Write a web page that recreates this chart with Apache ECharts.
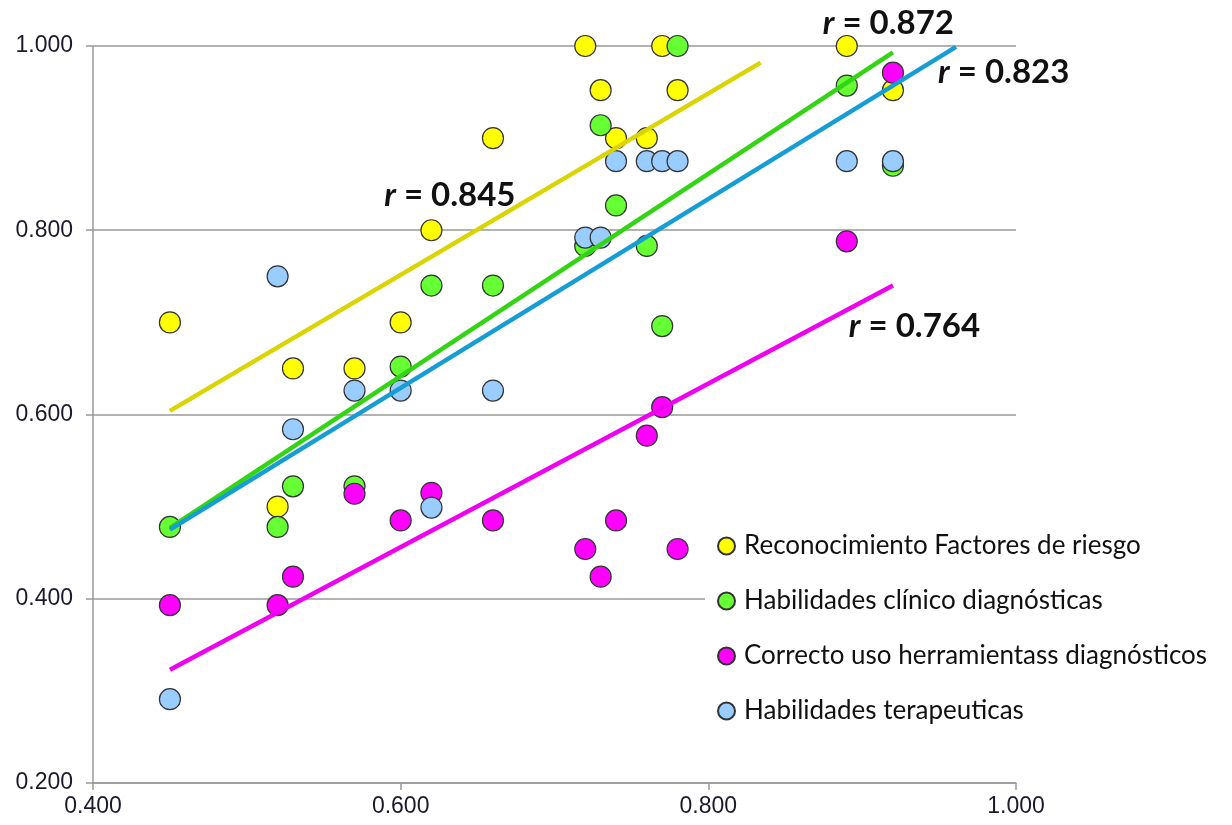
<!DOCTYPE html>
<html>
<head>
<meta charset="utf-8">
<script src="https://cdn.jsdelivr.net/npm/echarts@6/dist/echarts.min.js"></script>
<style>
  html, body { margin: 0; padding: 0; background: #fff; }
  #chart { width: 1232px; height: 825px; }
</style>
</head>
<body>
<div id="chart"></div>
<script>
var dom = document.getElementById("chart");
var myChart = echarts.init(dom);

// shared x values of every series
var xVals = [0.45, 0.52, 0.53, 0.57, 0.60, 0.62, 0.66, 0.72, 0.73, 0.74, 0.76, 0.77, 0.78, 0.89, 0.92];

var names = [
    'Reconocimiento Factores de riesgo',
    'Habilidades clínico diagnósticas',
    'Correcto uso herramientass diagnósticos',
    'Habilidades terapeuticas'
];

var riesgo      = [0.700, 0.500, 0.650, 0.650, 0.700, 0.800, 0.900, 1.000, 0.952, 0.900, 0.900, 1.000, 0.952, 1.000, 0.952];
var clinico     = [0.478, 0.478, 0.522, 0.522, 0.652, 0.740, 0.740, 0.783, 0.914, 0.827, 0.783, 0.696, 1.000, 0.957, 0.870];
var herramienta = [0.393, 0.393, 0.424, 0.514, 0.485, 0.515, 0.485, 0.454, 0.424, 0.485, 0.577, 0.608, 0.454, 0.788, 0.971];
var terapia     = [0.291, 0.750, 0.584, 0.626, 0.626, 0.499, 0.626, 0.792, 0.792, 0.875, 0.875, 0.875, 0.875, 0.875, 0.875];

// trend lines: [x0, y0, x1, y1]
var trendRiesgo      = [0.45, 0.604, 0.834, 0.982];
var trendClinico     = [0.45, 0.477, 0.92, 0.993];
var trendHerramienta = [0.45, 0.323, 0.92, 0.740];
var trendTerapia     = [0.45, 0.475, 0.961, 0.999];

// r labels: [x, y, text]
var rLabels = [
    [0.632, 0.838, '0.845'],
    [0.917, 1.025, '0.872'],
    [0.992, 0.971, '0.823'],
    [0.934, 0.696, '0.764']
];

var markerColors = ['#FFFF00', '#66FF33', '#FF00FF', '#99CCFF'];
var lineColors = ['#DAD400', '#33D414', '#F000F0', '#159DD4'];

function pairs(ys) {
    return xVals.map(function (x, i) { return [x, ys[i]]; });
}

function scatter(name, ys, color) {
    return {
        name: name,
        type: 'scatter',
        data: pairs(ys),
        symbolSize: 21,
        itemStyle: { color: color, borderColor: '#333', borderWidth: 1.2, opacity: 1 },
        z: 2
    };
}

function trend(name, t, color) {
    return {
        name: name,
        type: 'line',
        data: [[t[0], t[1]], [t[2], t[3]]],
        showSymbol: false,
        symbol: 'none',
        lineStyle: { color: color, width: 4.5 },
        silent: true,
        z: 3
    };
}

option = {
    animation: false,
    backgroundColor: '#fff',
    grid: { left: 93, right: 216, top: 46, bottom: 42 },
    xAxis: {
        type: 'value',
        min: 0.4,
        max: 1.0,
        interval: 0.2,
        axisLine: { lineStyle: { color: '#999', width: 1.5 } },
        axisTick: { show: true, length: 7, lineStyle: { color: '#999', width: 1.5 } },
        axisLabel: {
            formatter: function (v) { return v.toFixed(3); },
            color: '#1a1a2a',
            fontFamily: 'Liberation Sans',
            fontSize: 23,
            margin: 12
        },
        splitLine: { show: false }
    },
    yAxis: {
        type: 'value',
        min: 0.2,
        max: 1.0,
        interval: 0.2,
        axisLine: { show: true, lineStyle: { color: '#999', width: 1.5 } },
        axisTick: { show: true, length: 7, lineStyle: { color: '#999', width: 1.5 } },
        axisLabel: {
            formatter: function (v) { return v.toFixed(3); },
            color: '#1a1a2a',
            fontFamily: 'Liberation Sans',
            fontSize: 23,
            margin: 20
        },
        splitLine: { show: true, lineStyle: { color: '#999', width: 1.5 } }
    },
    legend: {
        data: names,
        orient: 'vertical',
        left: 705,
        top: 522,
        padding: [10, 8, 10, 12],
        backgroundColor: '#fff',
        icon: 'circle',
        itemWidth: 17,
        itemHeight: 17,
        itemGap: 27,
        textStyle: {
            fontFamily: 'Lato',
            fontSize: 26,
            lineHeight: 28,
            color: '#111',
            padding: [0, 0, 0, 4]
        },
        z: 10
    },
    series: [
        scatter(names[0], riesgo, markerColors[0]),
        scatter(names[1], clinico, markerColors[1]),
        scatter(names[2], herramienta, markerColors[2]),
        scatter(names[3], terapia, markerColors[3]),
        trend('trend1', trendRiesgo, lineColors[0]),
        trend('trend2', trendClinico, lineColors[1]),
        trend('trend3', trendHerramienta, lineColors[2]),
        trend('trend4', trendTerapia, lineColors[3])
    ]
};

if (option && typeof option === "object") {
    myChart.setOption(option, true);
}

// place the r labels at data positions
var texts = rLabels.map(function (l) {
    var p = myChart.convertToPixel({ gridIndex: 0 }, [l[0], l[1]]);
    return {
        type: 'text',
        x: p[0],
        y: p[1],
        z: 20,
        style: {
            text: '{i|r} = ' + l[2],
            align: 'center',
            verticalAlign: 'middle',
            fontFamily: 'Lato',
            fontWeight: 'bold',
            fontSize: 33,
            fill: '#111',
            rich: {
                i: { fontStyle: 'italic', fontWeight: 'bold', fontFamily: 'Lato', fontSize: 33 }
            }
        }
    };
});
myChart.setOption({ graphic: texts });
</script>
</body>
</html>
